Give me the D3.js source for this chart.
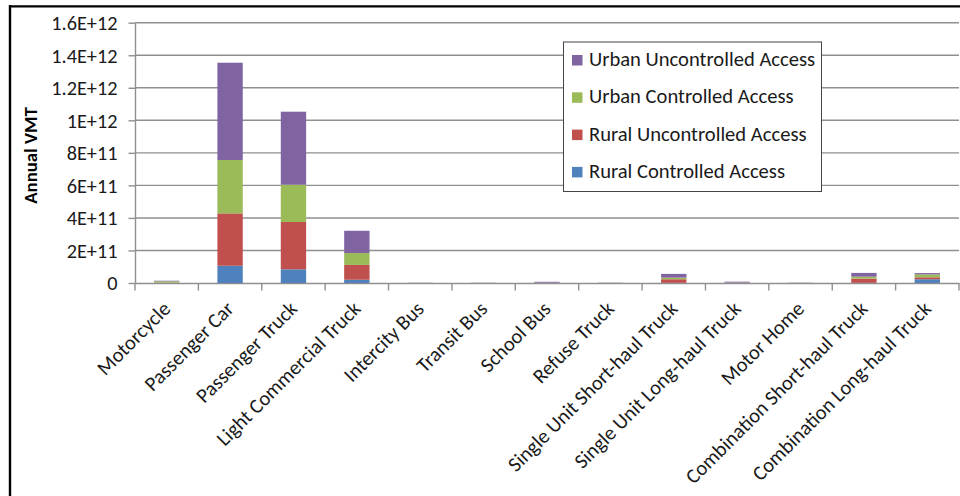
<!DOCTYPE html>
<html><head><meta charset="utf-8">
<script src="https://cdn.jsdelivr.net/npm/d3@7"></script>
<style>
html,body{margin:0;padding:0;background:#fff;}
svg{display:block;font-family:Carlito,Lato,"Open Sans",sans-serif;}
</style></head>
<body><svg id="chart" width="960" height="496"></svg>
<script>
const categories = ["Motorcycle","Passenger Car","Passenger Truck","Light Commercial Truck","Intercity Bus","Transit Bus","School Bus","Refuse Truck","Single Unit Short-haul Truck","Single Unit Long-haul Truck","Motor Home","Combination Short-haul Truck","Combination Long-haul Truck"];
const seriesNames = ["Rural Controlled Access","Rural Uncontrolled Access","Urban Controlled Access","Urban Uncontrolled Access"];
const seriesColors = ["#4F81BD","#C0504D","#9BBB59","#8064A2"];
const ruralControlled   = [0.005e11,1.06e11,0.84e11,0.20e11,0.003e11,0.001e11,0.004e11,0.002e11,0.01e11,0.005e11,0.002e11,0.01e11,0.23e11];
const ruralUncontrolled = [0.02e11,3.22e11,2.91e11,0.91e11,0.006e11,0.003e11,0.012e11,0.006e11,0.22e11,0.015e11,0.006e11,0.26e11,0.12e11];
const urbanControlled   = [0.08e11,3.28e11,2.29e11,0.73e11,0.002e11,0.002e11,0.01e11,0.002e11,0.10e11,0.01e11,0.002e11,0.12e11,0.18e11];
const urbanUncontrolled = [0.035e11,5.98e11,4.49e11,1.37e11,0.004e11,0.008e11,0.05e11,0.006e11,0.23e11,0.05e11,0.006e11,0.23e11,0.08e11];
const yTickValues = [0,2e11,4e11,6e11,8e11,1e12,1.2e12,1.4e12,1.6e12];
const yTickLabels = ["0","2E+11","4E+11","6E+11","8E+11","1E+12","1.2E+12","1.4E+12","1.6E+12"];
const yTitle = "Annual VMT";

const seriesValues = [ruralControlled, ruralUncontrolled, urbanControlled, urbanUncontrolled];
const rows = categories.map((c,i)=>{const o={cat:c}; seriesNames.forEach((s,j)=>o[s]=seriesValues[j][i]); return o;});
const stacked = d3.stack().keys(seriesNames)(rows);

const svg = d3.select("#chart");
const plotL = 135, plotR = 959, plotT = 22.7, plotB = 283;
const x = d3.scaleBand().domain(categories).range([plotL, plotR]).padding(0);
const y = d3.scaleLinear().domain([0,1.6e12]).range([plotB, plotT]);
const gridColor = "#8f8f8f";

// outer frame
svg.append("line").attr("x1",10).attr("x2",10).attr("y1",5).attr("y2",496).attr("stroke","#000").attr("stroke-width",2.4);
svg.append("line").attr("x1",9).attr("x2",960).attr("y1",6.3).attr("y2",6.3).attr("stroke","#000").attr("stroke-width",2.2);

// gridlines
svg.append("g").selectAll("line").data(yTickValues.slice(1)).join("line")
  .attr("x1",plotL).attr("x2",plotR).attr("y1",d=>y(d)).attr("y2",d=>y(d))
  .attr("stroke",gridColor).attr("stroke-width",1.4);

// y axis
const yAxis = d3.axisLeft(y).tickValues(yTickValues).tickFormat((d,i)=>yTickLabels[i]).tickSizeInner(6.5).tickSizeOuter(0).tickPadding(11);
const gy = svg.append("g").attr("transform",`translate(${plotL},0)`).call(yAxis);
gy.select(".domain").attr("stroke",gridColor).attr("stroke-width",1.4);
gy.selectAll(".tick line").attr("stroke",gridColor).attr("stroke-width",1.4);
gy.selectAll(".tick text").attr("font-size",20.3).attr("fill","#1a1a1a").attr("font-family","Carlito,Lato,sans-serif").attr("dy","0.34em");

// x axis
const xAxis = d3.axisBottom(x).tickSizeInner(0).tickSizeOuter(0).tickFormat("");
const gx = svg.append("g").attr("transform",`translate(0,${plotB})`).call(xAxis);
gx.select(".domain").attr("stroke",gridColor).attr("stroke-width",1.4);
gx.selectAll(".tick").remove();
const bounds = categories.map(c=>x(c)).concat([plotR]);
gx.selectAll("line.xt").data(bounds).join("line").attr("class","xt")
  .attr("x1",d=>d).attr("x2",d=>d).attr("y1",0).attr("y2",7.5)
  .attr("stroke",gridColor).attr("stroke-width",1.4);

// bars
const bw = x.bandwidth()*0.4;
svg.append("g").selectAll("g").data(stacked).join("g").attr("fill",(d,i)=>seriesColors[i])
  .selectAll("rect").data(d=>d).join("rect")
  .attr("x",d=>x(d.data.cat)+(x.bandwidth()-bw)/2)
  .attr("width",bw)
  .attr("y",d=>y(d[1]))
  .attr("height",d=>Math.max(0,y(d[0])-y(d[1])));

// x labels
svg.append("g").selectAll("text").data(categories).join("text")
  .attr("transform",d=>`translate(${x(d)+x.bandwidth()/2+5},310) rotate(-45)`)
  .attr("text-anchor","end").attr("font-size",20.5).attr("fill","#1a1a1a")
  .text(d=>d);

// y title
svg.append("text").attr("transform","translate(37,155.5) rotate(-90)")
  .attr("text-anchor","middle").attr("font-weight","bold").attr("font-size",18.8).attr("fill","#000")
  .text(yTitle);

// legend
const lg = svg.append("g");
lg.append("rect").attr("x",563.5).attr("y",42).attr("width",258).attr("height",149.5)
  .attr("fill","#fff").attr("stroke","#444").attr("stroke-width",1);
const legendOrder = [3,2,1,0];
legendOrder.forEach((si,k)=>{
  const by = 66 + k*37.3;
  lg.append("rect").attr("x",572).attr("y",by-11).attr("width",10.5).attr("height",10.5).attr("fill",seriesColors[si]);
  lg.append("text").attr("x",589).attr("y",by).attr("font-size",20.6).attr("fill","#1a1a1a").text(seriesNames[si]);
});
</script></body></html>
